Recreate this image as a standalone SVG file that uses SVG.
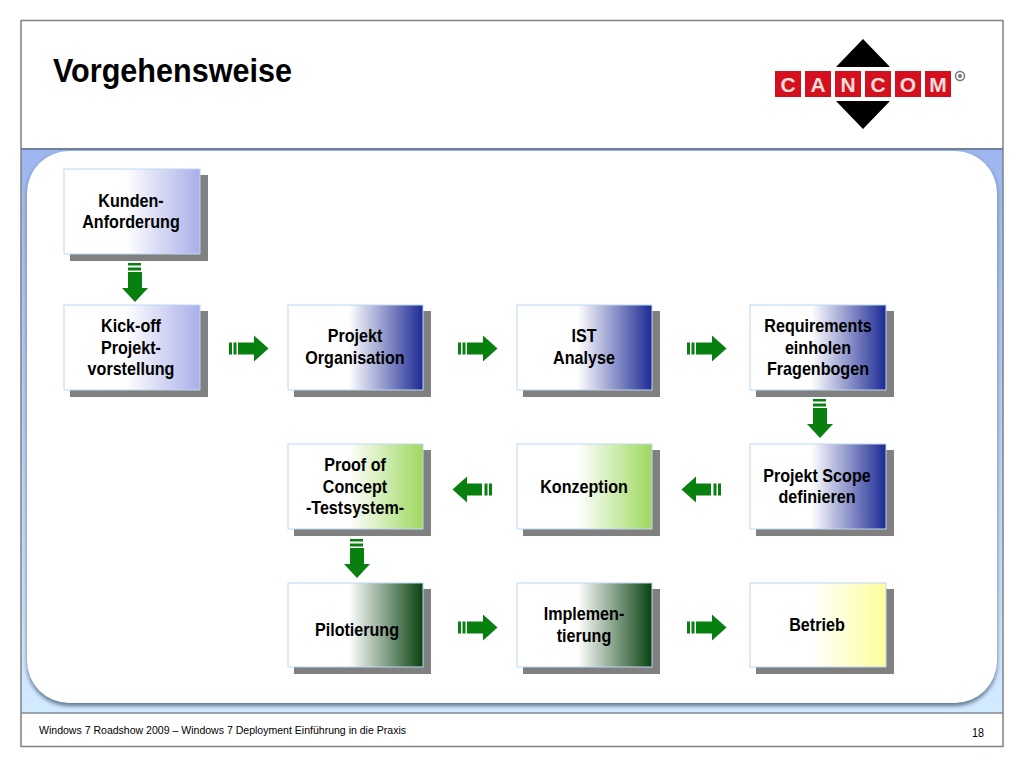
<svg xmlns="http://www.w3.org/2000/svg" xmlns:xlink="http://www.w3.org/1999/xlink" width="1024" height="768" viewBox="0 0 1024 768">
<style>
text{font-family:"Liberation Sans",Arial,sans-serif;fill:#000}
.l{font-size:18px;font-weight:bold;text-anchor:middle;transform-box:fill-box;transform-origin:center;transform:scaleX(.895)}
.b{stroke:#bcd8f2;stroke-width:1}
.s{fill:#808080}
.a{fill:#08800f}
.t{fill:#d5101e}
.c{font-size:21px;font-weight:bold;text-anchor:middle;fill:#f4dcdc}
</style>
<defs>
<linearGradient id="panel" x1="0" y1="0" x2="0" y2="1"><stop offset="0" stop-color="#9db6f0"/><stop offset="1" stop-color="#d3ebff"/></linearGradient>
<linearGradient id="g1" x1="0" y1="0" x2="1" y2="0"><stop offset="0.45" stop-color="#fff"/><stop offset="1" stop-color="#a9afe8"/></linearGradient>
<linearGradient id="g2" x1="0" y1="0" x2="1" y2="0"><stop offset="0.45" stop-color="#fff"/><stop offset="1" stop-color="#1c2a94"/></linearGradient>
<linearGradient id="g3" x1="0" y1="0" x2="1" y2="0"><stop offset="0.45" stop-color="#fff"/><stop offset="1" stop-color="#9ed85e"/></linearGradient>
<linearGradient id="g4" x1="0" y1="0" x2="1" y2="0"><stop offset="0.45" stop-color="#fff"/><stop offset="1" stop-color="#0a4210"/></linearGradient>
<linearGradient id="g5" x1="0" y1="0" x2="1" y2="0"><stop offset="0.45" stop-color="#fff"/><stop offset="1" stop-color="#fdfd9c"/></linearGradient>
<filter id="blur" x="-5%" y="-5%" width="110%" height="110%"><feGaussianBlur stdDeviation="2"/></filter>
<g id="right"><path class="a" d="M238 342.500h16v-7l14.500 13-14.500 13v-7h-16z"/><path class="a" d="M229 342.500h3v12h-3zM233.500 342.500h3v12h-3z"/></g>
<g id="left"><path class="a" d="M482 483.500h-15v-7l-14.500 13 14.500 13v-7h15z"/><path class="a" d="M492 483.500h-3v12h3zM487.500 483.500h-3v12h3z"/></g>
<g id="down"><path class="a" d="M128 272v16h-6l13 14 13-14h-6v-16z"/><path class="a" d="M128 263h13v2.500h-13zM128 267.500h13v3h-13z"/></g>
</defs>
<rect width="1024" height="768" fill="#fff"/>
<g id="frame">
<rect x="21" y="149" width="982" height="564" fill="url(#panel)"/>
<rect x="27" y="153" width="970" height="553" rx="42" fill="#5f7590" filter="url(#blur)"/>
<rect x="27" y="151" width="970" height="552" rx="42" fill="#fff"/>
<rect x="21" y="20.500" width="982" height="726" fill="none" stroke="#808080" stroke-width="1.500"/>
<line x1="21" y1="149" x2="1003" y2="149" stroke="#6f8299" stroke-width="2"/>
<line x1="21" y1="713" x2="1003" y2="713" stroke="#808890" stroke-width="1.500"/>
<text x="53" y="82" font-size="34" font-weight="bold" textLength="239" lengthAdjust="spacingAndGlyphs">Vorgehensweise</text>
<text x="39" y="734" font-size="11.500" textLength="367" lengthAdjust="spacingAndGlyphs">Windows 7 Roadshow 2009 – Windows 7 Deployment Einführung in die Praxis</text>
<text x="972" y="737" font-size="12" textLength="12" lengthAdjust="spacingAndGlyphs">18</text>
</g>
<g id="logo">
<path d="M863 39L890 67H836zM836 101H890L863 129z" fill="#000"/>
<rect class="t" x="775" y="71" width="26" height="26"/><rect class="t" x="805" y="71" width="26" height="26"/><rect class="t" x="835" y="71" width="26" height="26"/><rect class="t" x="865" y="71" width="26" height="26"/><rect class="t" x="895" y="71" width="26" height="26"/><rect class="t" x="925" y="71" width="26" height="26"/>
<text class="c" x="788" y="91.500">C</text><text class="c" x="818" y="91.500">A</text><text class="c" x="848" y="91.500">N</text><text class="c" x="878" y="91.500">C</text><text class="c" x="908" y="91.500">O</text><text class="c" x="938" y="91.500">M</text>
<circle cx="960" cy="76" r="4.500" fill="none" stroke="#777" stroke-width="1.500"/>
<circle cx="960" cy="76" r="2" fill="#777"/>
</g>
<g id="connectors">
<use xlink:href="#down"/>
<use xlink:href="#right"/>
<use xlink:href="#right" x="229"/>
<use xlink:href="#right" x="458"/>
<use xlink:href="#down" x="685" y="136"/>
<use xlink:href="#left" x="229"/>
<use xlink:href="#left"/>
<use xlink:href="#down" x="222" y="276"/>
<use xlink:href="#right" x="229" y="279"/>
<use xlink:href="#right" x="458" y="279"/>
</g>
<g id="n1"><rect class="s" x="70" y="175" width="138" height="86"/><rect class="b" x="64" y="169" width="136" height="85" fill="url(#g1)"/><text class="l" x="131" y="207">Kunden-</text><text class="l" x="131" y="228.500">Anforderung</text></g>
<g id="n2"><rect class="s" x="70" y="311" width="138" height="86"/><rect class="b" x="64" y="305" width="136" height="85" fill="url(#g1)"/><text class="l" x="131" y="332">Kick-off</text><text class="l" x="131" y="354">Projekt-</text><text class="l" x="131" y="375">vorstellung</text></g>
<g id="n3"><rect class="s" x="294" y="311" width="137" height="86"/><rect class="b" x="288" y="305" width="135" height="85" fill="url(#g2)"/><text class="l" x="355" y="342">Projekt</text><text class="l" x="355" y="364">Organisation</text></g>
<g id="n4"><rect class="s" x="523" y="311" width="137" height="86"/><rect class="b" x="517" y="305" width="135" height="85" fill="url(#g2)"/><text class="l" x="584" y="342">IST</text><text class="l" x="584" y="364">Analyse</text></g>
<g id="n5"><rect class="s" x="756" y="311" width="138" height="86"/><rect class="b" x="750" y="305" width="136" height="85" fill="url(#g2)"/><text class="l" x="818" y="332">Requirements</text><text class="l" x="818" y="354">einholen</text><text class="l" x="818" y="375">Fragenbogen</text></g>
<g id="n6"><rect class="s" x="756" y="450" width="138" height="86"/><rect class="b" x="750" y="444" width="136" height="85" fill="url(#g2)"/><text class="l" x="817" y="482">Projekt Scope</text><text class="l" x="817" y="503">definieren</text></g>
<g id="n7"><rect class="s" x="523" y="450" width="137" height="86"/><rect class="b" x="517" y="444" width="135" height="85" fill="url(#g3)"/><text class="l" x="584" y="493">Konzeption</text></g>
<g id="n8"><rect class="s" x="294" y="450" width="137" height="86"/><rect class="b" x="288" y="444" width="135" height="85" fill="url(#g3)"/><text class="l" x="355" y="471">Proof of</text><text class="l" x="355" y="493">Concept</text><text class="l" x="355" y="514">-Testsystem-</text></g>
<g id="n9"><rect class="s" x="294" y="589" width="137" height="85"/><rect class="b" x="288" y="583" width="135" height="84" fill="url(#g4)"/><text class="l" x="357" y="636">Pilotierung</text></g>
<g id="n10"><rect class="s" x="523" y="589" width="137" height="85"/><rect class="b" x="517" y="583" width="135" height="84" fill="url(#g4)"/><text class="l" x="584" y="620">Implemen-</text><text class="l" x="584" y="642">tierung</text></g>
<g id="n11"><rect class="s" x="756" y="589" width="138" height="85"/><rect class="b" x="750" y="583" width="136" height="84" fill="url(#g5)"/><text class="l" x="817" y="631">Betrieb</text></g>
</svg>
